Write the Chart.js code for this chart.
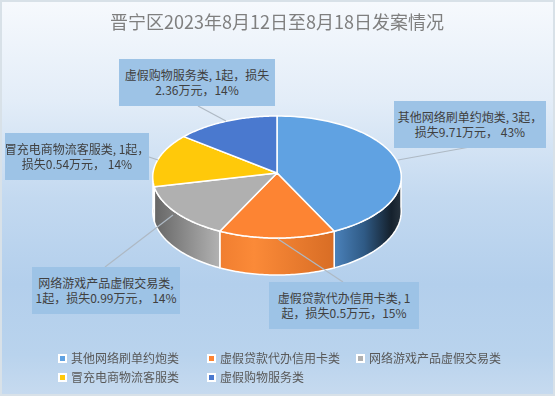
<!DOCTYPE html>
<html lang="zh"><head><meta charset="utf-8">
<script src="https://cdn.jsdelivr.net/npm/chart.js@4"></script>
<style>
html,body{margin:0;padding:0;background:#fff}
#panel{position:relative;width:551px;height:392px;border:2px solid #d8e1e8;overflow:hidden;
 background:linear-gradient(180deg,#f6f9fd 0%,#e3edf8 25%,#c3d9f0 50%,#b3cfec 72%,#b9d3ed 90%,#c6daef 100%);
 font-family:"Noto Sans CJK SC","Noto Sans",sans-serif}
canvas{position:absolute;left:-2px;top:-2px}
.call{position:absolute;background:#9dc3e6;color:#404040;font-size:12px;line-height:14.5px;display:flex;align-items:center;justify-content:center;text-align:center;white-space:pre}
.lg{position:absolute;font-size:12px;line-height:14px;color:#595959;white-space:pre}
.mk{position:absolute;width:5px;height:5px;border:2px solid #fff}
</style></head><body>
<div id="panel"><canvas id="c" width="555" height="396"></canvas></div>
<script>
const titleText = "晋宁区2023年8月12日至8月18日发案情况";
const categories = ["其他网络刷单约炮类","虚假贷款代办信用卡类","网络游戏产品虚假交易类","冒充电商物流客服类","虚假购物服务类"];
const caseCounts = [3,1,1,1,1];
const sliceColors = ["#60a2e2","#fd8433","#b0b0b0","#ffc90a","#4a79cf"];
const calloutTexts = [
 "其他网络刷单约炮类, 3起，\n损失9.71万元， 43%",
 "虚假贷款代办信用卡类, 1\n起，损失0.5万元，15%",
 "网络游戏产品虚假交易类,\n1起，损失0.99万元， 14%",
 "冒充电商物流客服类, 1起，\n损失0.54万元， 14%",
 "虚假购物服务类, 1起，损失\n2.36万元，14%"];
const calloutBoxes = [[394,101,152,47],[269,282,150,47],[32,267,148,47],[5,133,144,47],[119,59,156,47]];
const leaderLines = [[470,147,398,160],[343,282,278,239],[105,267,173,215],[149,157,158,160],[198,106,226,121]];
const legendSlots = [[58,358],[207,358],[356,358],[58,377],[207,377]];
const sideStops = [
 [[0,"#4b82bb"],[0.45,"#2f5a85"],[0.85,"#15212d"],[1,"#27333e"]],
 [[0,"#f07e30"],[0.3,"#fb8a38"],[1,"#d86d25"]],
 [[0,"#666666"],[1,"#b2b2b2"]],
 [[0,"#5c5c5a"],[1,"#626260"]],
 [[0,"#333",],[1,"#333"]]];

const persp = 0.0656, squash = 0.49, depthBase = 34, depthTilt = 3;
function project(arc, th, down){
  const u = Math.sin(th), v = -Math.cos(th), w = 1 - persp*v, r = arc.outerRadius;
  return [arc.x + r*u/w, arc.y + r*squash*v/w + (down ? depthBase + depthTilt*v : 0)];
}
function sideSpan(arc){
  const a = Math.max(arc.startAngle + Math.PI/2, Math.PI/2);
  const b = Math.min(arc.endAngle + Math.PI/2, Math.PI*1.5);
  return a < b ? [a,b] : null;
}
const pie3d = {
  id:'pie3d',
  beforeDatasetDraw(chart, args){
    const ctx = chart.ctx, arcs = args.meta.data;
    ctx.save();
    ctx.lineJoin = 'round';
    ctx.strokeStyle = '#fff'; ctx.lineWidth = 1.5;
    arcs.forEach((arc,i)=>{
      const s = sideSpan(arc); if(!s) return;
      const N = 48, pts = [];
      for(let k=0;k<=N;k++) pts.push(project(arc, s[0]+(s[1]-s[0])*k/N, false));
      for(let k=N;k>=0;k--) pts.push(project(arc, s[0]+(s[1]-s[0])*k/N, true));
      const xs = pts.map(p=>p[0]);
      const g = ctx.createLinearGradient(Math.min(...xs),0,Math.max(...xs),0);
      sideStops[i].forEach(st=>g.addColorStop(st[0],st[1]));
      ctx.beginPath(); pts.forEach((p,k)=>k?ctx.lineTo(p[0],p[1]):ctx.moveTo(p[0],p[1])); ctx.closePath();
      ctx.fillStyle = g; ctx.fill(); ctx.stroke();
    });
    arcs.forEach((arc,i)=>{
      const a = arc.startAngle + Math.PI/2, b = arc.endAngle + Math.PI/2, N = 72;
      ctx.beginPath(); ctx.moveTo(arc.x, arc.y);
      for(let k=0;k<=N;k++){ const p = project(arc, a+(b-a)*k/N, false); ctx.lineTo(p[0],p[1]); }
      ctx.closePath();
      ctx.fillStyle = sliceColors[i]; ctx.fill(); ctx.stroke();
    });
    ctx.strokeStyle = '#aeb9c4'; ctx.lineWidth = 1.2;
    leaderLines.forEach(l=>{ ctx.beginPath(); ctx.moveTo(l[0],l[1]); ctx.lineTo(l[2],l[3]); ctx.stroke(); });
    ctx.restore();
    return false;
  }
};
new Chart(document.getElementById('c'),{
  type:'pie',
  data:{labels:categories,datasets:[{data:caseCounts,backgroundColor:sliceColors,borderColor:'#fff',borderWidth:0,radius:124}]},
  plugins:[pie3d],
  options:{responsive:false,animation:false,
    layout:{padding:{bottom:95,right:1}},
    plugins:{legend:{display:false},tooltip:{enabled:false},
      title:{display:true,text:titleText,color:'#7f7f7f',font:{family:'"Noto Sans CJK SC"',size:18,weight:'normal'},padding:{top:11,bottom:12.4}}}}
});
const panel = document.getElementById('panel');
calloutTexts.forEach((t,i)=>{
  const d = document.createElement('div'); d.className='call'; d.textContent=t;
  const b = calloutBoxes[i];
  d.style.cssText = `left:${b[0]-2}px;top:${b[1]-2}px;width:${b[2]}px;height:${b[3]}px`;
  panel.appendChild(d);
});
categories.forEach((t,i)=>{
  const s = legendSlots[i];
  const m = document.createElement('div'); m.className='mk';
  m.style.cssText = `left:${s[0]-2}px;top:${s[1]-6.5}px;background:${sliceColors[i]}`;
  const d = document.createElement('div'); d.className='lg'; d.textContent=t;
  d.style.cssText = `left:${s[0]+11}px;top:${s[1]-9}px`;
  panel.appendChild(m); panel.appendChild(d);
});
</script></body></html>
